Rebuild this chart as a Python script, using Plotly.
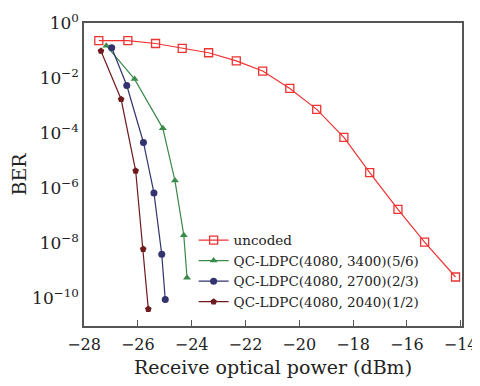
import plotly.graph_objects as go

# Data
unc_x = [-27.45, -26.37, -25.34, -24.35, -23.37, -22.34, -21.36, -20.35, -19.35, -18.34, -17.38, -16.33, -15.34, -14.19]
unc_y = [0.23, 0.23, 0.18, 0.12, 0.083, 0.042, 0.018, 4.2e-3, 7.3e-4, 7.1e-5, 3.7e-6, 1.7e-7, 1.1e-8, 6e-10]

r56_x = [-27.17, -26.12, -25.07, -24.62, -24.29, -24.17]
r56_y = [0.15, 9.2e-3, 1.5e-4, 1.9e-6, 1.95e-8, 5.6e-10]

r23_x = [-26.97, -26.41, -25.79, -25.40, -25.11, -24.98]
r23_y = [0.126, 5.4e-3, 4.6e-5, 6.8e-7, 4e-9, 9.2e-11]

r12_x = [-27.37, -26.62, -26.08, -25.80, -25.61]
r12_y = [0.096, 1.7e-3, 4.3e-6, 6.2e-9, 4.1e-11]

x_ticks = [-28, -26, -24, -22, -20, -18, -16, -14]
y_ticks = [1, 1e-2, 1e-4, 1e-6, 1e-8, 1e-10]
y_ticktext = ["10<sup>0</sup>", "10<sup>−2</sup>", "10<sup>−4</sup>", "10<sup>−6</sup>", "10<sup>−8</sup>", "10<sup>−10</sup>"]
y_minor_marks = [1e-2, 10 ** -4.65, 10 ** -7.3, 1e-10]

FONT = "DejaVu Serif"
TXT = "#222222"

fig = go.Figure()
fig.add_trace(go.Scatter(x=unc_x, y=unc_y, mode="lines+markers", name="uncoded",
                         line=dict(color="#EE3333", width=1.2),
                         marker=dict(symbol="square-open", size=8, color="#EE3333", line=dict(width=1.3))))
fig.add_trace(go.Scatter(x=r56_x, y=r56_y, mode="lines+markers", name="QC-LDPC(4080, 3400)(5/6)",
                         line=dict(color="#3A8A4A", width=1.2),
                         marker=dict(symbol="triangle-up", size=7, color="#3A8A4A")))
fig.add_trace(go.Scatter(x=r23_x, y=r23_y, mode="lines+markers", name="QC-LDPC(4080, 2700)(2/3)",
                         line=dict(color="#33336E", width=1.2),
                         marker=dict(symbol="circle", size=7, color="#33336E")))
fig.add_trace(go.Scatter(x=r12_x, y=r12_y, mode="lines+markers", name="QC-LDPC(4080, 2040)(1/2)",
                         line=dict(color="#6E1A1E", width=1.2),
                         marker=dict(symbol="pentagon", size=7, color="#6E1A1E")))

fig.update_layout(
    width=472, height=370,
    margin=dict(l=76, r=18, t=15, b=52),
    paper_bgcolor="white", plot_bgcolor="white",
    font=dict(family=FONT, color=TXT),
    showlegend=True,
    legend=dict(x=0.29, y=0.334, xanchor="left", yanchor="top",
                bgcolor="rgba(0,0,0,0)", font=dict(size=13.5, family=FONT, color=TXT),
                tracegroupgap=0, itemwidth=30),
    xaxis=dict(range=[-28, -13.95], tickvals=x_ticks, ticks="inside", ticklen=6,
               automargin=False, ticklabelstandoff=3,
               showgrid=False, zeroline=False, showline=True, mirror=True,
               linecolor="#555555", linewidth=1.5, tickcolor="#555555",
               tickfont=dict(size=16, family=FONT, color=TXT),
               title=dict(text="Receive optical power (dBm)", font=dict(size=19, family=FONT, color=TXT), standoff=8)),
    yaxis=dict(type="log", range=[-11, 0], tickvals=y_ticks, ticktext=y_ticktext, ticks="",
               automargin=False,
               showgrid=False, zeroline=False, showline=True, mirror=True,
               linecolor="#555555", linewidth=1.5,
               tickfont=dict(size=17, family=FONT, color=TXT),
               title=dict(text="BER", font=dict(size=19, family=FONT, color=TXT), standoff=2)),
    yaxis2=dict(type="log", range=[-11, 0], overlaying="y", side="left", tickvals=y_minor_marks,
                automargin=False,
                ticks="inside", ticklen=6, tickcolor="#555555", showticklabels=False,
                showgrid=False, zeroline=False, showline=False),
)

fig.write_html("out.html")
